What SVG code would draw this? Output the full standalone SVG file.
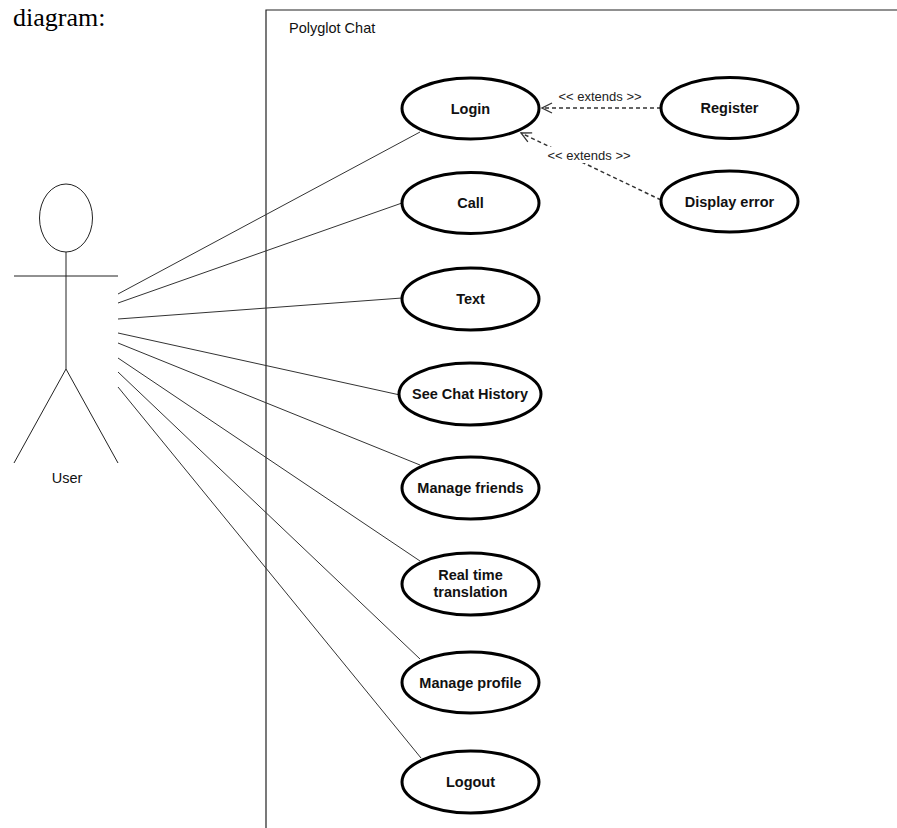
<svg xmlns="http://www.w3.org/2000/svg" width="897" height="828" viewBox="0 0 897 828">
<defs>
<style>
.uc ellipse{fill:#fff;stroke:#000;stroke-width:3}
.uc text{font-family:"Liberation Sans",Arial,sans-serif;font-size:14.5px;font-weight:bold;fill:#111;text-anchor:middle}
.assoc line{stroke:#333;stroke-width:1}
.ext{stroke:#333;stroke-width:1.5;stroke-dasharray:4,3;fill:none}
.lbl{font-family:"Liberation Sans",Arial,sans-serif;font-size:13px;fill:#222;text-anchor:middle}
.actor{stroke:#222;stroke-width:1;fill:none}
</style>
<marker id="open" viewBox="0 0 12 12" refX="11" refY="6" markerWidth="12" markerHeight="12" markerUnits="userSpaceOnUse" orient="auto">
<path d="M1,1 L11,6 L1,11" fill="none" stroke="#333" stroke-width="1.3"/>
</marker>
</defs>
<rect width="897" height="828" fill="#fff"/>
<text x="13" y="26" font-family="Liberation Serif,Times New Roman,serif" font-size="26" fill="#000">diagram:</text>
<g id="system">
<path d="M266,828 L266,10 L897,10" fill="none" stroke="#222" stroke-width="1.2"/>
<text x="289" y="33" font-family="Liberation Sans,Arial,sans-serif" font-size="14.5" fill="#111">Polyglot Chat</text>
</g>
<g id="actor-user" class="actor">
<ellipse cx="66" cy="218" rx="26.5" ry="34"/>
<line x1="66" y1="252" x2="66" y2="369"/>
<line x1="14" y1="276" x2="118" y2="276"/>
<line x1="66" y1="369" x2="14" y2="463"/>
<line x1="66" y1="369" x2="118" y2="463"/>
<text x="67" y="483" font-family="Liberation Sans,Arial,sans-serif" font-size="14.5" fill="#111" stroke="none" text-anchor="middle">User</text>
</g>
<g id="connectors">
<g class="assoc">
<line x1="118" y1="294" x2="420" y2="132"/>
<line x1="118" y1="303" x2="402" y2="203"/>
<line x1="118" y1="319" x2="402" y2="298"/>
<line x1="118" y1="333" x2="400" y2="395"/>
<line x1="118" y1="343" x2="420" y2="465"/>
<line x1="118" y1="358" x2="420" y2="561"/>
<line x1="118" y1="372" x2="420" y2="659"/>
<line x1="118" y1="387" x2="421" y2="758"/>
</g>
<line class="ext" x1="661" y1="108" x2="542" y2="108" marker-end="url(#open)"/>
<line class="ext" x1="661" y1="200" x2="521" y2="133" marker-end="url(#open)"/>
<text class="lbl" x="600" y="101">&lt;&lt; extends &gt;&gt;</text>
<rect x="544" y="147" width="90" height="16" fill="#fff"/>
<text class="lbl" x="589" y="160">&lt;&lt; extends &gt;&gt;</text>
</g>
<g id="uc-login" class="uc"><ellipse cx="470.5" cy="108.5" rx="68.5" ry="30.5"/><text x="470.5" y="113.5">Login</text></g>
<g id="uc-register" class="uc"><ellipse cx="729.5" cy="108" rx="68.5" ry="30.5"/><text x="729.5" y="113">Register</text></g>
<g id="uc-display-error" class="uc"><ellipse cx="729.5" cy="201.5" rx="68.5" ry="30.5"/><text x="729.5" y="206.5">Display error</text></g>
<g id="uc-call" class="uc"><ellipse cx="470.5" cy="203" rx="68.5" ry="30.5"/><text x="470.5" y="208">Call</text></g>
<g id="uc-text" class="uc"><ellipse cx="470.5" cy="299" rx="68.5" ry="31"/><text x="470.5" y="304">Text</text></g>
<g id="uc-chat-history" class="uc"><ellipse cx="470" cy="394" rx="71" ry="31"/><text x="470" y="399">See Chat History</text></g>
<g id="uc-manage-friends" class="uc"><ellipse cx="470.5" cy="488" rx="68.5" ry="31"/><text x="470.5" y="493">Manage friends</text></g>
<g id="uc-translation" class="uc"><ellipse cx="470.5" cy="584" rx="68.5" ry="31"/><text x="470.5" y="580">Real time</text><text x="470.5" y="597">translation</text></g>
<g id="uc-manage-profile" class="uc"><ellipse cx="470.5" cy="682.5" rx="68.5" ry="30.5"/><text x="470.5" y="687.5">Manage profile</text></g>
<g id="uc-logout" class="uc"><ellipse cx="470.5" cy="782" rx="68.5" ry="31"/><text x="470.5" y="787">Logout</text></g>
</svg>
